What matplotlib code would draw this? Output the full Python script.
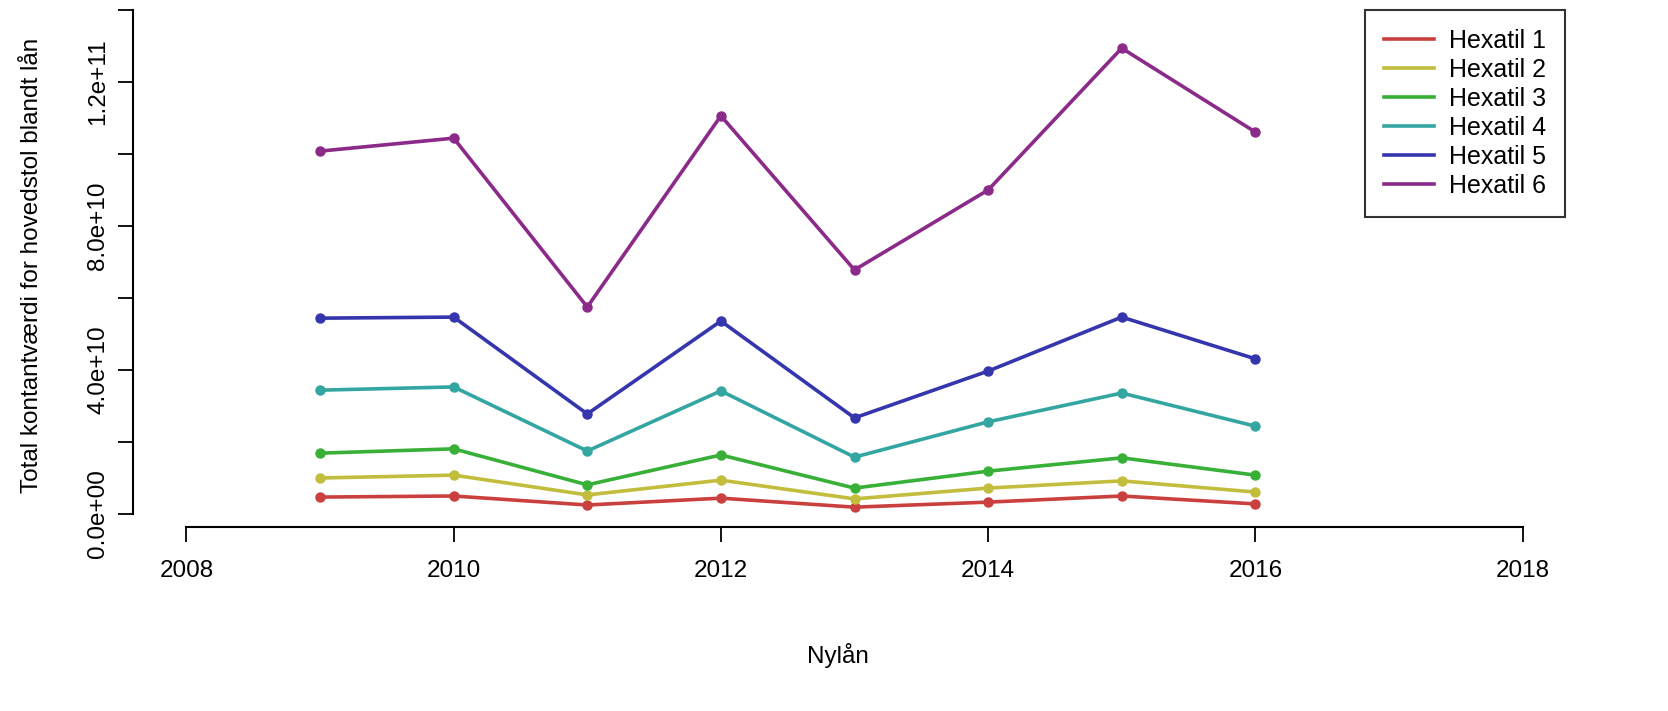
import matplotlib
matplotlib.use('Agg')
import matplotlib.pyplot as plt

plt.rcParams['font.family'] = ['Liberation Sans', 'DejaVu Sans']

years = [2009, 2010, 2011, 2012, 2013, 2014, 2015, 2016]
hexatil_1 = [4.7e9, 5.0e9, 2.5e9, 4.4e9, 1.9e9, 3.3e9, 5.0e9, 2.8e9]
hexatil_2 = [1.00e10, 1.08e10, 5.3e9, 9.4e9, 4.2e9, 7.2e9, 9.2e9, 6.1e9]
hexatil_3 = [1.69e10, 1.81e10, 8.1e9, 1.64e10, 7.2e9, 1.19e10, 1.56e10, 1.08e10]
hexatil_4 = [3.44e10, 3.53e10, 1.75e10, 3.42e10, 1.58e10, 2.56e10, 3.36e10, 2.44e10]
hexatil_5 = [5.44e10, 5.47e10, 2.78e10, 5.36e10, 2.67e10, 3.97e10, 5.47e10, 4.31e10]
hexatil_6 = [1.008e11, 1.044e11, 5.75e10, 1.106e11, 6.78e10, 9.0e10, 1.294e11, 1.061e11]

series_labels = ['Hexatil 1', 'Hexatil 2', 'Hexatil 3', 'Hexatil 4', 'Hexatil 5', 'Hexatil 6']
series_colors = ['#C9403F', '#C2BD3C', '#38B038', '#33A6A2', '#3535AE', '#8B2A89']

x_ticks = [2008, 2010, 2012, 2014, 2016, 2018]
y_ticks = [0, 2e10, 4e10, 6e10, 8e10, 1e11, 1.2e11, 1.4e11]
y_tick_labels = ['0.0e+00', '', '4.0e+10', '', '8.0e+10', '', '1.2e+11', '']

x_label = 'Nylån'
y_label = 'Total kontantværdi for hovedstol blandt lån'

W, H = 1668, 711
fig = plt.figure(figsize=(W / 100, H / 100), dpi=100)
left, right, bottom, top = 133, 1576, 527, 10
ax = fig.add_axes([left / W, 1 - bottom / H, (right - left) / W, (bottom - top) / H])

all_series = [hexatil_1, hexatil_2, hexatil_3, hexatil_4, hexatil_5, hexatil_6]
for vals, lab, col in zip(all_series, series_labels, series_colors):
    ax.plot(years, vals, color=col, lw=2.6, marker='o', markersize=6.5,
            label=lab, solid_joinstyle='round')

ax.set_xlim(2007.6, 2018.4)
ax.set_ylim(-3.61e9, 1.4e11)

for s in ['top', 'right']:
    ax.spines[s].set_visible(False)
ax.spines['left'].set_bounds(0, 1.4e11)
ax.spines['bottom'].set_bounds(2008, 2018)
for s in ['left', 'bottom']:
    ax.spines[s].set_linewidth(1.5)

ax.set_xticks(x_ticks)
ax.set_xticklabels([str(t) for t in x_ticks])
ax.set_yticks(y_ticks)
ax.set_yticklabels(y_tick_labels, rotation=90, va='center')

fs = 17.5
ax.tick_params(axis='x', length=11, width=1.3, pad=13, labelsize=fs)
ax.tick_params(axis='y', length=11, width=1.3, pad=6, labelsize=fs)

fig.text(838 / W, 1 - 655 / H, x_label, ha='center', va='center', fontsize=fs)
fig.text(32 / W, 1 - 265 / H, y_label, ha='center', va='center', rotation=90, fontsize=fs)

leg = ax.legend(loc='upper right', bbox_to_anchor=(1565 / W, 1 - 10 / H),
                bbox_transform=fig.transFigure, borderaxespad=0, fancybox=False,
                frameon=True, fontsize=18, handlelength=2.0, handletextpad=0.6,
                labelspacing=0.2, borderpad=0.75)
for h in leg.get_lines():
    h.set_marker('')
    h.set_linewidth(2.6)
leg.get_frame().set_edgecolor('black')
leg.get_frame().set_linewidth(1.5)

fig.savefig('out.png', dpi=100)
